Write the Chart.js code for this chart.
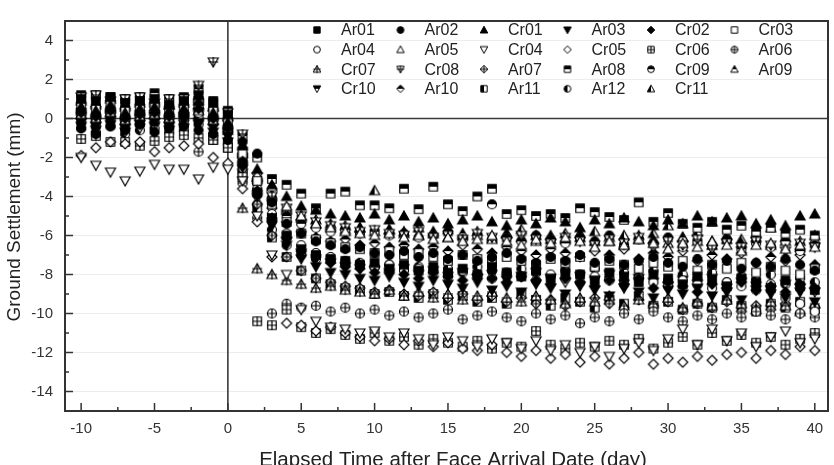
<!DOCTYPE html>
<html>
<head>
<meta charset="utf-8">
<script src="https://cdn.jsdelivr.net/npm/chart.js@4.4.1/dist/chart.umd.min.js"></script>
<style>
  html, body { margin: 0; padding: 0; background: #fff; }
  #wrap { width: 834px; height: 465px; }
</style>
</head>
<body>
<div id="wrap"><canvas id="chart" width="834" height="465"></canvas></div>
<script>
// days relative to face arrival
const DAYS = [-10, -9, -8, -7, -6, -5, -4, -3, -2, -1, 0,
  1, 2, 3, 4, 5, 6, 7, 8, 9, 10,
  11, 12, 13, 14, 15, 16, 17, 18, 19, 20,
  21, 22, 23, 24, 25, 26, 27, 28, 29, 30,
  31, 32, 33, 34, 35, 36, 37, 38, 39, 40];

const SERIES_NAMES = ['Ar01', 'Ar02', 'Cr01', 'Ar03', 'Cr02', 'Cr03',
  'Ar04', 'Ar05', 'Cr04', 'Cr05', 'Cr06', 'Ar06',
  'Cr07', 'Cr08', 'Ar07', 'Ar08', 'Cr09', 'Ar09',
  'Cr10', 'Ar10', 'Ar11', 'Ar12', 'Cr11'];

const MARKER_SHAPES = ['square', 'circle', 'up', 'down', 'diamond',
  'square', 'circle', 'up', 'down', 'diamond',
  'square', 'circle', 'up', 'down', 'diamond',
  'square', 'circle', 'up', 'down', 'diamond',
  'square', 'circle', 'up'];

const MARKER_FILLS = ['solid', 'solid', 'solid', 'solid', 'solid',
  'open', 'open', 'open', 'open', 'open',
  'plus', 'plus', 'plus', 'plus', 'plus',
  'halfTop', 'halfTop', 'halfTop', 'halfTop', 'halfTop',
  'halfLeft', 'halfLeft', 'halfLeft'];

// settlement (mm), one value per day in DAYS
const AR01 = [1.0, 0.9, 1.1, 0.8, 0.9, 1.0, 0.7, 0.9, 1.2, 0.8, 0.2,
  -2.3, -3.8, -5.1, -6.0, -6.7, -7.0, -7.2, -7.3, -7.5, -7.4,
  -7.7, -7.5, -7.8, -7.6, -7.9, -7.7, -8.0, -7.6, -7.9, -8.1,
  -7.8, -8.2, -7.9, -8.0, -8.3, -7.9, -8.1, -8.4, -8.0, -8.2,
  -8.5, -8.1, -8.3, -8.6, -8.2, -8.4, -8.7, -8.3, -8.6, -8.8];
const AR02 = [-0.5, -0.8, -0.4, -0.6, -0.3, -0.7, -0.5, -0.4, -0.6, -0.8, -1.1,
  -1.2, -1.8, -4.3, -5.4, -5.9, -6.3, -6.5, -6.7, -6.6, -6.9,
  -7.0, -6.8, -7.1, -6.9, -7.2, -7.0, -7.3, -7.1, -6.9, -7.2,
  -7.4, -7.1, -7.3, -7.0, -7.4, -7.2, -7.5, -7.3, -7.1, -7.4,
  -7.6, -7.2, -7.5, -7.3, -7.7, -7.4, -7.6, -7.2, -7.5, -7.8];
const CR01 = [0.6, 0.4, 0.7, 0.3, 0.5, 0.6, 0.4, 0.5, 0.9, 0.3, -0.2,
  -1.4, -2.6, -3.4, -4.0, -4.5, -4.7, -4.9, -5.0, -5.1, -4.9,
  -5.2, -5.0, -5.3, -5.1, -5.4, -5.2, -5.0, -5.3, -5.5, -5.2,
  -5.4, -5.1, -5.3, -5.6, -5.2, -5.4, -5.1, -5.3, -5.5, -5.2,
  -5.4, -5.0, -5.3, -5.1, -5.0, -5.4, -5.2, -5.5, -5.0, -4.9];
const AR03 = [-0.2, -0.4, -0.1, -0.5, -0.3, -0.2, -0.4, -0.1, -0.3, -0.5, -0.9,
  -2.5, -4.0, -5.5, -6.5, -7.2, -7.6, -7.9, -8.0, -8.2, -8.3,
  -8.1, -8.4, -8.6, -8.3, -8.5, -8.7, -8.4, -8.8, -8.6, -8.9,
  -8.5, -8.7, -9.0, -8.6, -8.8, -9.1, -8.7, -8.9, -9.2, -8.8,
  -9.0, -8.7, -9.1, -8.9, -9.3, -8.8, -9.0, -9.2, -8.9, -9.4];
const CR02 = [0.3, 0.1, 0.4, 0.0, 0.2, 0.3, 0.1, 0.2, 0.5, 0.0, -0.5,
  -2.2, -3.7, -5.1, -6.1, -6.8, -7.1, -7.4, -7.6, -7.7, -7.9,
  -7.8, -8.0, -8.2, -7.9, -8.1, -8.3, -8.0, -8.2, -8.4, -8.1,
  -8.3, -8.5, -8.2, -8.4, -8.6, -8.3, -8.5, -8.2, -8.7, -8.4,
  -8.6, -8.9, -8.5, -8.7, -8.4, -8.8, -8.6, -8.9, -8.5, -8.7];
const CR03 = [0.7, 0.5, 0.8, 0.4, 0.6, 0.7, 0.5, 0.6, 0.9, 0.4, -0.1,
  -1.8, -3.2, -4.4, -5.3, -5.9, -6.2, -6.4, -6.6, -6.7, -6.9,
  -6.8, -7.0, -6.9, -7.1, -7.3, -7.0, -7.2, -7.4, -7.1, -7.3,
  -7.5, -7.2, -7.4, -7.1, -7.6, -7.3, -7.5, -7.7, -7.4, -7.6,
  -7.3, -7.8, -7.5, -7.7, -7.4, -7.9, -7.6, -7.8, -8.0, -7.7];
const AR04 = [0.4, 0.2, 0.5, 0.1, 0.3, 0.4, 0.2, 0.3, 0.6, 0.1, -0.4,
  -2.0, -3.6, -4.9, -5.9, -6.5, -6.9, -7.1, -7.3, -7.5, -7.6,
  -7.5, -7.8, -7.7, -7.9, -8.1, -7.8, -8.0, -8.2, -7.9, -8.1,
  -8.3, -8.0, -8.2, -8.4, -8.1, -8.3, -8.5, -8.2, -8.4, -8.6,
  -8.3, -8.5, -8.7, -8.4, -8.6, -8.8, -8.5, -9.2, -9.5, -9.9];
const AR05 = [0.2, 0.0, 0.3, -0.1, 0.1, 0.2, 0.0, 0.1, 0.4, -0.1, -0.6,
  -1.6, -2.9, -3.5, -4.5, -5.0, -5.4, -5.6, -5.8, -5.9, -6.0,
  -5.9, -6.1, -6.0, -6.2, -6.1, -6.3, -6.2, -6.0, -6.3, -6.5,
  -6.2, -6.4, -6.1, -6.3, -6.6, -6.3, -6.5, -6.2, -6.4, -6.7,
  -6.4, -6.6, -6.3, -6.5, -6.8, -6.5, -6.4, -6.7, -6.5, -6.6];
const CR04 = [-2.0, -2.4, -2.75, -3.2, -2.7, -2.35, -2.6, -2.6, -3.1, -2.5, -2.6,
  -3.2, -5.0, -7.0, -8.0, -9.8, -10.4, -10.7, -10.8, -11.0, -10.9,
  -11.2, -11.0, -11.3, -11.6, -11.2, -11.4, -11.7, -11.3, -11.5, -11.8,
  -11.4, -11.9, -11.6, -12.0, -11.7, -12.2, -11.8, -11.5, -11.9, -11.3,
  -10.8, -11.6, -10.8, -11.4, -11.0, -11.7, -11.2, -10.9, -11.5, -11.3];
const CR05 = [-1.9, -1.5, -1.2, -1.3, -1.2, -1.7, -1.5, -1.4, -1.3, -2.0, -2.3,
  -3.6, -5.3, -7.1, -10.5, -10.6, -10.9, -10.7, -11.0, -11.2, -11.4,
  -11.3, -11.6, -11.4, -11.7, -11.5, -11.8, -11.9, -11.6, -12.0, -12.2,
  -11.9, -12.3, -12.1, -12.5, -12.2, -12.6, -12.3, -12.0, -12.6, -12.3,
  -12.5, -12.2, -12.4, -12.1, -12.0, -12.3, -11.9, -12.1, -11.7, -11.9];
const CR06 = [-1.05, -0.9, -1.2, -1.2, -1.4, -1.15, -0.95, -0.85, -1.0, -1.1, -1.5,
  -3.0, -10.4, -10.6, -9.8, -10.7, -11.0, -10.8, -11.1, -11.3, -11.0,
  -11.4, -11.2, -11.6, -11.3, -11.5, -11.7, -11.4, -11.8, -11.5, -11.7,
  -10.9, -11.6, -11.8, -11.5, -11.7, -11.4, -11.6, -11.3, -11.8, -11.5,
  -11.2, -11.6, -11.0, -11.4, -11.1, -11.5, -11.2, -11.6, -11.3, -11.0];
const AR06 = [0.3, 0.1, 0.4, 0.0, 0.2, 0.3, 0.1, 0.2, -1.7, 0.0, -0.6,
  -3.3, -5.1, -10.0, -9.5, -9.7, -9.6, -9.9, -9.7, -10.0, -9.8,
  -10.1, -9.9, -10.2, -10.0, -9.8, -10.3, -10.1, -9.9, -10.2, -10.4,
  -10.0, -10.3, -10.1, -10.5, -10.2, -10.4, -10.0, -10.3, -9.9, -10.2,
  -10.4, -10.1, -10.3, -10.0, -10.2, -9.9, -10.1, -10.3, -10.0, -10.2];
const CR07 = [0.9, 0.7, 1.0, 0.6, 0.8, 0.9, 0.7, 0.8, 1.1, 0.6, 0.1,
  -4.6, -7.7, -8.0, -8.3, -8.5, -8.7, -8.6, -8.8, -8.9, -9.0,
  -8.8, -9.1, -8.9, -9.2, -9.0, -9.3, -9.1, -8.9, -9.2, -9.4,
  -9.1, -9.3, -9.5, -9.2, -9.4, -9.1, -9.6, -9.3, -9.5, -9.2,
  -9.7, -9.4, -9.6, -9.3, -9.5, -9.8, -9.4, -9.6, -9.9, -9.5];
const CR08 = [1.1, 1.2, 0.9, 1.0, 1.1, 0.8, 1.0, 1.0, 1.7, 2.9, 0.3,
  -0.8, -3.0, -4.0, -4.6, -5.0, -5.3, -5.5, -5.6, -5.8, -5.7,
  -5.9, -6.0, -5.8, -6.1, -6.0, -6.2, -5.9, -6.1, -6.3, -6.0,
  -6.2, -6.4, -6.1, -6.3, -6.5, -6.2, -6.4, -6.1, -6.6, -6.3,
  -6.5, -6.2, -6.7, -6.4, -6.6, -6.3, -6.5, -6.8, -6.4, -6.6];
const AR07 = [0.8, 0.6, 0.9, 0.5, 0.7, 0.8, 0.6, 0.7, 1.0, 0.5, 0.0,
  -2.6, -4.4, -6.0, -7.1, -7.8, -8.2, -8.4, -8.6, -8.7, -8.9,
  -8.8, -9.0, -9.1, -8.9, -9.2, -9.0, -9.3, -9.1, -9.4, -9.2,
  -9.5, -9.3, -9.6, -9.4, -9.2, -9.5, -9.7, -9.3, -9.6, -9.4,
  -9.8, -9.5, -9.7, -9.4, -9.9, -9.6, -9.8, -9.5, -10.0, -9.7];
const AR08 = [1.2, 1.2, 1.1, 1.0, 1.1, 1.3, 1.0, 1.1, 1.5, 0.9, 0.4,
  -0.9, -2.0, -3.1, -3.4, -3.85, -4.6, -3.85, -3.75, -4.45, -4.45,
  -4.6, -3.6, -4.65, -3.5, -4.4, -4.75, -4.0, -3.6, -4.9, -4.7,
  -5.0, -4.9, -5.1, -4.6, -4.8, -5.05, -5.2, -4.3, -5.3, -4.85,
  -5.4, -5.6, -5.3, -5.7, -5.5, -5.8, -5.6, -5.9, -5.7, -6.0];
const CR09 = [0.1, -0.1, 0.2, -0.2, 0.0, 0.1, -0.1, 0.0, 0.3, -0.2, -0.7,
  -1.9, -3.3, -4.3, -5.0, -5.4, -5.6, -5.8, -5.7, -5.9, -5.8,
  -6.0, -5.9, -6.1, -6.0, -5.8, -6.2, -6.0, -4.4, -6.1, -6.3,
  -6.0, -6.2, -6.4, -6.1, -6.3, -6.0, -6.5, -6.2, -6.4, -6.1,
  -6.6, -6.3, -6.5, -6.2, -6.7, -6.4, -6.6, -6.3, -6.8, -6.5];
const AR09 = [0.5, 0.3, 0.6, 0.2, 0.4, 0.5, 0.3, 0.4, 0.7, 0.2, -0.3,
  -1.7, -3.0, -4.0, -4.7, -5.1, -5.4, -5.5, -5.7, -5.6, -5.8,
  -5.7, -5.9, -6.0, -5.8, -6.1, -5.9, -6.0, -6.2, -5.9, -6.1,
  -6.3, -6.0, -6.2, -5.9, -6.3, -6.1, -6.4, -6.0, -6.2, -6.4,
  -6.1, -6.3, -6.5, -6.2, -6.4, -6.1, -6.5, -6.3, -6.6, -6.2];
const CR10 = [-0.4, -0.6, -0.3, -0.7, -0.5, -0.4, -0.6, -0.5, -0.2, -0.7, -1.2,
  -2.6, -4.1, -5.4, -6.3, -6.9, -7.2, -7.4, -7.6, -7.7, -7.8,
  -7.9, -7.7, -8.0, -7.8, -8.1, -7.9, -8.2, -8.0, -8.3, -8.1,
  -7.9, -8.2, -8.4, -8.1, -8.3, -8.0, -8.5, -8.2, -8.4, -8.6,
  -8.3, -8.5, -8.2, -8.7, -8.4, -8.6, -8.8, -8.5, -8.7, -8.9];
const AR10 = [0.5, 0.6, 0.3, 0.5, 0.4, 0.6, 0.5, 0.3, 0.8, 0.4, -0.1,
  -1.5, -3.3, -4.6, -5.3, -5.8, -6.1, -6.3, -6.2, -6.5, -6.4,
  -6.6, -6.5, -6.7, -6.6, -6.8, -6.5, -6.7, -6.9, -6.6, -6.8,
  -7.0, -6.7, -6.9, -7.1, -6.8, -7.0, -6.7, -7.2, -6.9, -7.1,
  -6.8, -7.3, -7.0, -7.2, -6.9, -7.4, -7.1, -7.3, -7.0, -7.5];
const AR11 = [-0.1, -0.3, 0.0, -0.4, -0.2, -0.1, -0.3, -0.2, 0.1, -1.1, -1.5,
  -2.9, -4.6, -6.1, -7.1, -7.8, -8.2, -8.5, -8.7, -8.8, -9.0,
  -8.9, -9.1, -9.2, -9.0, -9.3, -9.1, -9.4, -9.2, -9.5, -9.0,
  -9.3, -9.6, -9.2, -9.4, -9.7, -9.3, -9.5, -9.1, -9.6, -9.4,
  -9.8, -9.5, -9.7, -9.3, -9.6, -9.9, -9.5, -9.7, -9.4, -9.8];
const AR12 = [-0.5, -0.7, -0.4, -0.8, -0.6, -0.5, -0.7, -0.6, -0.3, -0.8, -1.3,
  -2.7, -4.4, -5.7, -6.5, -7.0, -7.2, -7.3, -7.5, -7.4, -7.6,
  -7.5, -7.7, -7.6, -7.8, -7.7, -7.9, -7.6, -7.8, -8.0, -7.7,
  -7.9, -8.1, -7.8, -8.0, -7.7, -8.2, -7.9, -8.1, -7.8, -8.3,
  -8.0, -8.2, -7.9, -8.4, -8.1, -8.3, -8.0, -8.5, -8.2, -8.4];
const CR11 = [0.4, 0.2, 0.5, 0.1, 0.3, 0.4, 0.2, 0.3, 0.6, 0.1, -0.4,
  -1.8, -3.0, -3.9, -4.6, -5.0, -5.2, -5.4, -5.5, -5.6, -3.7,
  -5.7, -5.8, -5.6, -5.9, -5.7, -6.0, -5.8, -6.1, -5.9, -5.7,
  -6.0, -6.2, -5.9, -6.1, -5.8, -6.3, -6.0, -6.2, -5.9, -5.5,
  -6.1, -5.8, -6.3, -6.0, -6.2, -5.9, -5.6, -6.1, -6.3, -6.0];

const SERIES_VALUES = [AR01, AR02, CR01, AR03, CR02, CR03,
  AR04, AR05, CR04, CR05, CR06, AR06,
  CR07, CR08, AR07, AR08, CR09, AR09,
  CR10, AR10, AR11, AR12, CR11];

const X_TICKS = [-10, -5, 0, 5, 10, 15, 20, 25, 30, 35, 40];
const X_MINOR = [-7.5, -2.5, 2.5, 7.5, 12.5, 17.5, 22.5, 27.5, 32.5, 37.5];
const Y_TICKS = [-14, -12, -10, -8, -6, -4, -2, 0, 2, 4];
const Y_MINOR = [-13, -11, -9, -7, -5, -3, -1, 1, 3];

const FONT = '"Liberation Sans", Arial, sans-serif';

// draw one Origin-style symbol into a small canvas
function makeMarker(shape, fill, size, lw) {
  const dim = Math.ceil(size) + 4;
  const cvs = document.createElement('canvas');
  cvs.width = dim;
  cvs.height = dim;
  const ctx = cvs.getContext('2d');
  const c = dim / 2, r = size / 2;
  const outline = () => {
    ctx.beginPath();
    if (shape === 'square') {
      ctx.rect(c - r * 0.85, c - r * 0.85, r * 1.7, r * 1.7);
    } else if (shape === 'circle') {
      ctx.arc(c, c, r * 0.9, 0, Math.PI * 2);
    } else if (shape === 'up') {
      ctx.moveTo(c, c - r); ctx.lineTo(c + r, c + r * 0.8); ctx.lineTo(c - r, c + r * 0.8); ctx.closePath();
    } else if (shape === 'down') {
      ctx.moveTo(c, c + r); ctx.lineTo(c + r, c - r * 0.8); ctx.lineTo(c - r, c - r * 0.8); ctx.closePath();
    } else {
      ctx.moveTo(c, c - r); ctx.lineTo(c + r, c); ctx.lineTo(c, c + r); ctx.lineTo(c - r, c); ctx.closePath();
    }
  };
  ctx.lineWidth = lw;
  ctx.strokeStyle = '#000';
  outline();
  ctx.fillStyle = fill === 'solid' ? '#000' : '#fff';
  ctx.fill();
  if (fill === 'halfTop' || fill === 'halfLeft') {
    ctx.save();
    outline();
    ctx.clip();
    ctx.fillStyle = '#000';
    if (fill === 'halfTop') ctx.fillRect(0, 0, dim, c);
    else ctx.fillRect(0, 0, c, dim);
    ctx.restore();
  }
  outline();
  ctx.stroke();
  if (fill === 'plus') {
    ctx.beginPath();
    ctx.moveTo(c - r, c); ctx.lineTo(c + r, c);
    ctx.moveTo(c, c - r); ctx.lineTo(c, c + r);
    ctx.stroke();
  }
  return cvs;
}

const dataMarkers = SERIES_NAMES.map((_, i) => makeMarker(MARKER_SHAPES[i], MARKER_FILLS[i], 10, 1.2));
const legendMarkers = SERIES_NAMES.map((_, i) => makeMarker(MARKER_SHAPES[i], MARKER_FILLS[i], 7.5, 1));

// zero lines, frame, inward ticks, legend and axis titles
const decorPlugin = {
  id: 'decor',
  beforeDatasetsDraw(chart) {
    const { ctx, chartArea: a, scales: { x, y } } = chart;
    const x0 = x.getPixelForValue(0);
    const y0 = y.getPixelForValue(0);
    ctx.save();
    ctx.strokeStyle = '#3a3a3a';
    ctx.lineWidth = 1.6;
    ctx.beginPath();
    ctx.moveTo(x0, a.top); ctx.lineTo(x0, a.bottom);
    ctx.moveTo(a.left, y0); ctx.lineTo(a.right, y0);
    ctx.stroke();
    ctx.restore();
  },
  afterDraw(chart) {
    const { ctx, chartArea: a, scales: { x, y } } = chart;
    ctx.save();
    ctx.strokeStyle = '#333';
    ctx.lineWidth = 2;
    ctx.strokeRect(a.left, a.top, a.right - a.left, a.bottom - a.top);

    ctx.lineWidth = 1.5;
    ctx.beginPath();
    X_TICKS.forEach(v => { const px = x.getPixelForValue(v); ctx.moveTo(px, a.bottom); ctx.lineTo(px, a.bottom - 8); });
    X_MINOR.forEach(v => { const px = x.getPixelForValue(v); ctx.moveTo(px, a.bottom); ctx.lineTo(px, a.bottom - 4); });
    Y_TICKS.forEach(v => { const py = y.getPixelForValue(v); ctx.moveTo(a.left, py); ctx.lineTo(a.left + 8, py); });
    Y_MINOR.forEach(v => { const py = y.getPixelForValue(v); ctx.moveTo(a.left, py); ctx.lineTo(a.left + 4, py); });
    ctx.stroke();

    // legend: 6 columns inside the plot, top right
    ctx.font = '16px ' + FONT;
    ctx.fillStyle = '#222';
    ctx.textBaseline = 'middle';
    ctx.textAlign = 'left';
    SERIES_NAMES.forEach((name, i) => {
      const col = i % 6, row = Math.floor(i / 6);
      const mx = 317 + col * 83.5;
      const my = 30 + row * 19.6;
      const m = legendMarkers[i];
      ctx.drawImage(m, mx - m.width / 2, my - m.height / 2);
      ctx.fillText(name, mx + 24, my + 1);
    });

    // axis titles
    ctx.fillStyle = '#222';
    ctx.textAlign = 'center';
    ctx.textBaseline = 'alphabetic';
    ctx.font = '20.5px ' + FONT;
    ctx.fillText('Elapsed Time after Face Arrival Date (day)', 453, 466);
    ctx.translate(20, 217);
    ctx.rotate(-Math.PI / 2);
    ctx.font = '19px ' + FONT;
    ctx.fillText('Ground Settlement (mm)', 0, 0);
    ctx.restore();
  }
};

const datasets = SERIES_NAMES.map((name, i) => ({
  label: name,
  data: DAYS.map((d, k) => ({ x: d, y: SERIES_VALUES[i][k] })),
  pointStyle: dataMarkers[i],
  pointRadius: 5,
  showLine: false
}));

new Chart(document.getElementById('chart'), {
  type: 'scatter',
  data: { datasets },
  options: {
    responsive: false,
    animation: false,
    devicePixelRatio: 1,
    layout: { padding: { left: 0, right: 5, top: 7, bottom: 0 } },
    plugins: { legend: { display: false }, tooltip: { enabled: false } },
    scales: {
      x: {
        type: 'linear',
        min: -11.1,
        max: 40.9,
        afterBuildTicks: axis => { axis.ticks = X_TICKS.map(v => ({ value: v })); },
        afterFit: axis => { axis.height = 54; },
        grid: { display: false, drawTicks: false },
        border: { display: false },
        ticks: { padding: 9, color: '#333', font: { family: FONT, size: 15 } }
      },
      y: {
        min: -15,
        max: 5,
        afterBuildTicks: axis => { axis.ticks = Y_TICKS.map(v => ({ value: v })); },
        afterFit: axis => { axis.width = 65; },
        grid: { drawTicks: false, color: 'rgba(0,0,0,0.07)', lineWidth: 1 },
        border: { display: false },
        ticks: { padding: 12, color: '#333', font: { family: FONT, size: 15 } }
      }
    }
  },
  plugins: [decorPlugin]
});
</script>
</body>
</html>
